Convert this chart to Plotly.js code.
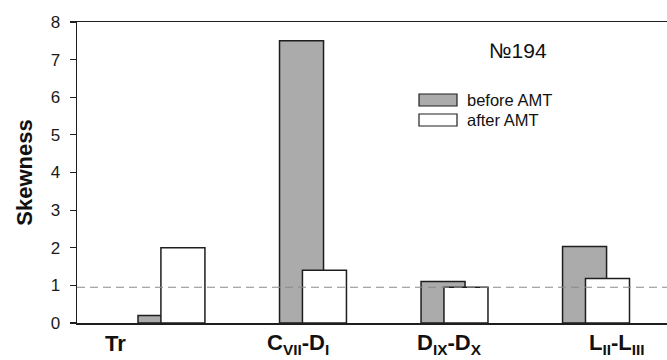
<!DOCTYPE html>
<html>
<head>
<meta charset="utf-8">
<script src="https://cdn.plot.ly/plotly-3.0.1.min.js"></script>
<style>html,body{margin:0;padding:0;background:#fff;}#chart{width:667px;height:360px;}</style>
</head>
<body>
<div id="chart"></div>
<script>
const categories = ["Tr", "C<sub>VII</sub>-D<sub>I</sub>", "D<sub>IX</sub>-D<sub>X</sub>", "L<sub>II</sub>-L<sub>III</sub>"];
const beforeAMT = [0.2, 7.5, 1.1, 2.03];
const afterAMT = [2.0, 1.4, 0.95, 1.18];
const threshold = 0.95;
const yTicks = [0, 1, 2, 3, 4, 5, 6, 7, 8];
const seriesNames = ["before AMT", "after AMT"];
const labelShift = [-0.389, 0.90, 1.965, 3.155];

const idx = categories.map((c, i) => i);
const barW = 0.311;

const traces = [
  {type: 'bar', x: idx, y: beforeAMT, name: seriesNames[0], width: barW, offset: -0.233,
   marker: {color: '#ababab', line: {color: '#1e1e1e', width: 1.5}}, showlegend: false},
  {type: 'bar', x: idx, y: afterAMT, name: seriesNames[1], width: barW, offset: -0.071,
   marker: {color: '#ffffff', line: {color: '#1e1e1e', width: 1.5}}, showlegend: false}
];

const font = 'Liberation Sans, Arial, sans-serif';
const catAnn = categories.map((c, i) => ({
  xref: 'x', yref: 'paper', x: labelShift[i], y: (323 - 344) / 301, text: '<b>' + c + '</b>',
  showarrow: false, xanchor: 'center', yanchor: 'middle',
  font: {family: font, size: 22, color: '#111'}
}));

const layout = {
  width: 667, height: 360,
  margin: {l: 77, r: 0, t: 22, b: 37},
  paper_bgcolor: '#fff', plot_bgcolor: '#fff',
  barmode: 'overlay',
  font: {family: font, color: '#1a1a1a'},
  xaxis: {
    range: [-0.664, 3.505], showgrid: false, zeroline: false,
    showline: true, linecolor: '#1e1e1e', linewidth: 1.5, mirror: true,
    showticklabels: false, ticks: ''
  },
  yaxis: {
    range: [0, 8], tickvals: yTicks, showgrid: false, zeroline: false,
    showline: true, linecolor: '#1e1e1e', linewidth: 1.5,
    ticks: 'outside', ticklen: 6, tickwidth: 1.2, tickcolor: '#1e1e1e',
    tickfont: {family: font, size: 17, color: '#1a1a1a'},
    ticklabelstandoff: 6,
    title: {text: '<b>Skewness</b>', font: {family: font, size: 22, color: '#111'}, standoff: 12}
  },
  shapes: [
    {type: 'line', xref: 'paper', x0: 0, x1: 1, yref: 'y', y0: threshold, y1: threshold,
     line: {color: '#8a8a8a', width: 1.2, dash: '8px,5px'}, layer: 'above'},
    {type: 'rect', xref: 'paper', yref: 'paper', x0: (419-77)/590, x1: (457-77)/590,
     y0: (323-106)/301, y1: (323-94)/301, fillcolor: '#ababab', line: {color: '#1e1e1e', width: 1.2}},
    {type: 'rect', xref: 'paper', yref: 'paper', x0: (419-77)/590, x1: (457-77)/590,
     y0: (323-126)/301, y1: (323-114)/301, fillcolor: '#ffffff', line: {color: '#1e1e1e', width: 1.2}}
  ],
  annotations: [
    {xref: 'paper', yref: 'paper', x: (518-77)/590, y: (323-51)/301, text: '№194', showarrow: false,
     xanchor: 'center', yanchor: 'middle', font: {family: font, size: 21, color: '#111'}},
    {xref: 'paper', yref: 'paper', x: (465-77)/590, y: (323-100)/301, text: seriesNames[0], showarrow: false,
     xanchor: 'left', yanchor: 'middle', font: {family: font, size: 16.5, color: '#111'}},
    {xref: 'paper', yref: 'paper', x: (465-77)/590, y: (323-120)/301, text: seriesNames[1], showarrow: false,
     xanchor: 'left', yanchor: 'middle', font: {family: font, size: 16.5, color: '#111'}}
  ].concat(catAnn)
};

Plotly.newPlot('chart', traces, layout, {displayModeBar: false, staticPlot: true});
</script>
</body>
</html>
